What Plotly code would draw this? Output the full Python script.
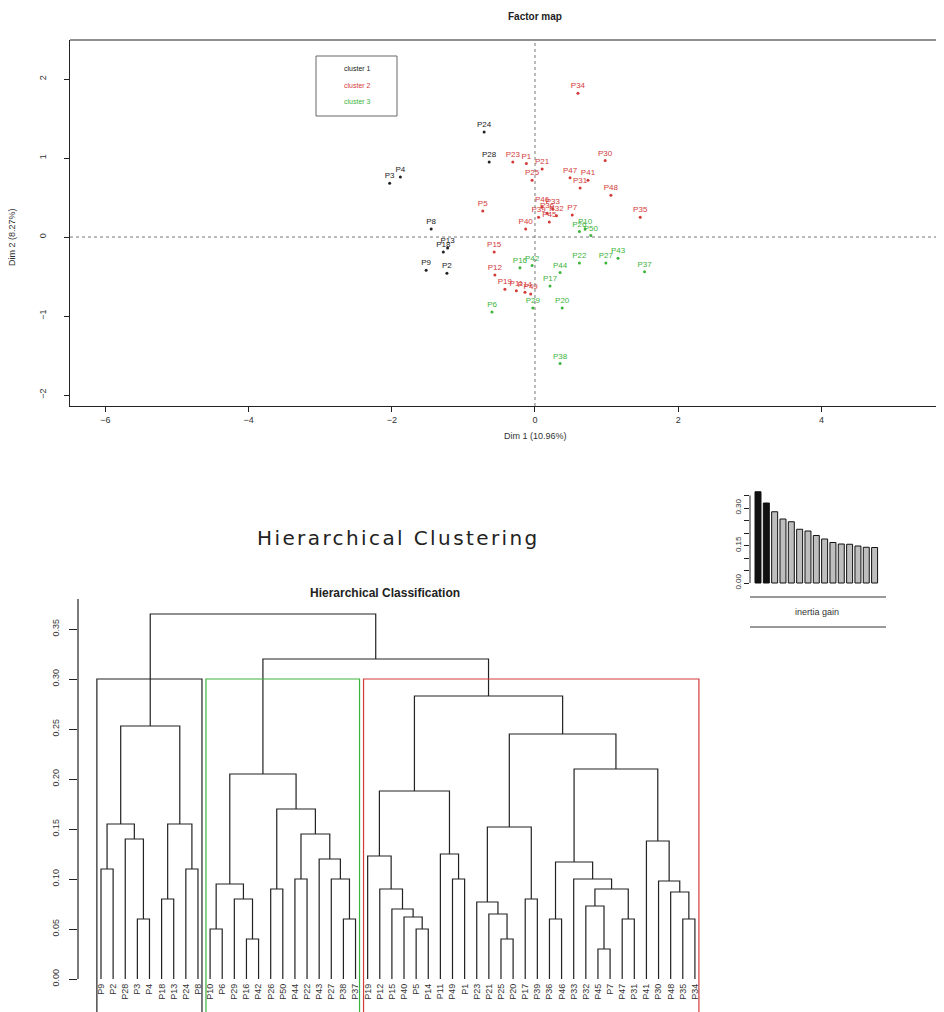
import plotly.graph_objects as go

W, H = 944, 1012
OFF = 8  # page body margin of the html file


def px(xp):
    return (xp - OFF) / W


def py(yp):
    return 1 - (yp - OFF) / H


RED = "#d43a3a"
GREEN = "#3cb43c"
BLACK = "#222222"

# ---------------- Factor map data ----------------
c1_names = ["P24", "P28", "P3", "P4", "P8", "P18", "P13", "P9", "P2"]
c1_x = [-0.71, -0.64, -2.03, -1.88, -1.45, -1.28, -1.22, -1.52, -1.23]
c1_y = [1.33, 0.95, 0.68, 0.76, 0.10, -0.19, -0.14, -0.42, -0.46]

c2_names = ["P34", "P30", "P23", "P1", "P21", "P25", "P47", "P41", "P31", "P48",
            "P35", "P5", "P7", "P36", "P39", "P33", "P46", "P32", "P45", "P40",
            "P15", "P12", "P19", "P11", "P14", "P49"]
c2_x = [0.60, 0.98, -0.31, -0.12, 0.10, -0.04, 0.49, 0.74, 0.63, 1.06,
        1.47, -0.73, 0.52, 0.17, 0.05, 0.25, 0.10, 0.30, 0.20, -0.13,
        -0.57, -0.56, -0.42, -0.26, -0.14, -0.06]
c2_y = [1.82, 0.97, 0.95, 0.93, 0.86, 0.72, 0.75, 0.72, 0.62, 0.53,
        0.25, 0.33, 0.28, 0.30, 0.25, 0.35, 0.38, 0.27, 0.19, 0.10,
        -0.19, -0.48, -0.66, -0.68, -0.70, -0.72]

c3_names = ["P26", "P50", "P10", "P22", "P44", "P17", "P43", "P27", "P37", "P42",
            "P16", "P29", "P6", "P20", "P38"]
c3_x = [0.62, 0.78, 0.70, 0.62, 0.35, 0.21, 1.16, 0.99, 1.53, -0.04,
        -0.21, -0.03, -0.60, 0.38, 0.35]
c3_y = [0.07, 0.02, 0.10, -0.33, -0.45, -0.62, -0.27, -0.33, -0.44, -0.36,
        -0.39, -0.90, -0.95, -0.90, -1.60]

map_xticks = [-6, -4, -2, 0, 2, 4, 6]
map_yticks = [-2, -1, 0, 1, 2]
legend_labels = ["cluster 1", "cluster 2", "cluster 3"]

# ---------------- Dendrogram data ----------------
leaf_labels = ["P9", "P2", "P28", "P3", "P4", "P18", "P13", "P24", "P8",
               "P10", "P6", "P29", "P16", "P42", "P26", "P50", "P44", "P22", "P43", "P27", "P38", "P37",
               "P19", "P12", "P15", "P40", "P5", "P14", "P11", "P49", "P1", "P23", "P21", "P25", "P20",
               "P17", "P39", "P36", "P46", "P33", "P32", "P45", "P7", "P47", "P31", "P41", "P30", "P48",
               "P35", "P34"]
# merges: negative = leaf position, positive = earlier merge row (1-based)
merge_a = [-1, -4, -3, 1, -6, -8, 5, 4,
           -10, -13, -12, 9, -15, -17, -21, -20, -19, 14, 13, 12,
           -27, -26, -25, -24, -23, -30, -29, 25,
           -34, -33, -32, -36, 31, -38, -42, -41, -44, 36, -40, 34,
           -49, -48, -47, -46, 40, 33, 28, 20, 8]
merge_b = [-2, -5, 2, 3, -7, -9, 6, 7,
           -11, -14, 10, 11, -16, -18, -22, 15, 16, 17, 18, 19,
           -28, 21, 22, 23, 24, -31, 26, 27,
           -35, 29, 30, -37, 32, -39, -43, 35, -45, 37, 38, 39,
           -50, 41, 42, 43, 44, 45, 46, 47, 48]
merge_h = [0.11, 0.06, 0.14, 0.155, 0.08, 0.11, 0.155, 0.253,
           0.05, 0.04, 0.08, 0.095, 0.09, 0.10, 0.06, 0.10, 0.12, 0.145, 0.17, 0.205,
           0.05, 0.062, 0.07, 0.09, 0.123, 0.10, 0.125, 0.188,
           0.04, 0.065, 0.077, 0.08, 0.152, 0.06, 0.03, 0.073, 0.06, 0.09, 0.10, 0.117,
           0.06, 0.087, 0.098, 0.138, 0.21, 0.245, 0.283, 0.32, 0.365]
cluster_sizes = [9, 13, 28]
cluster_colors = [BLACK, GREEN, RED]
cut_height = 0.30
dendro_ticks = [0.00, 0.05, 0.10, 0.15, 0.20, 0.25, 0.30, 0.35]

# ---------------- Inertia gain data ----------------
inertia_gain = [0.365, 0.32, 0.285, 0.256, 0.245, 0.215, 0.208, 0.19, 0.176,
                0.162, 0.156, 0.155, 0.148, 0.143, 0.142]
n_cut = 2
gain_ticks = [0.00, 0.05, 0.10, 0.15, 0.20, 0.25, 0.30, 0.35]
gain_ticktext = ["0.00", "", "", "0.15", "", "", "0.30", ""]

FONT = "Liberation Sans, Arial, sans-serif"

fig = go.Figure()

# ---- factor map points ----
for names, xs, ys, col in [(c1_names, c1_x, c1_y, BLACK),
                           (c2_names, c2_x, c2_y, RED),
                           (c3_names, c3_x, c3_y, GREEN)]:
    fig.add_trace(go.Scatter(
        x=xs, y=ys, mode="markers+text", text=names, textposition="top center",
        marker=dict(size=3, color=col), textfont=dict(size=8, color=col, family=FONT),
        xaxis="x", yaxis="y", showlegend=False, hoverinfo="text", cliponaxis=False))

# ---- dendrogram ----
nodes = {}


def coord(ref):
    if ref < 0:
        return float(-ref), 0.0
    return nodes[ref]


seg_x, seg_y = [], []
for i, (a, b, h) in enumerate(zip(merge_a, merge_b, merge_h), start=1):
    xa, ha = coord(a)
    xb, hb = coord(b)
    seg_x += [xa, xa, xb, xb, None]
    seg_y += [ha, h, h, hb, None]
    nodes[i] = ((xa + xb) / 2, h)

fig.add_trace(go.Scatter(x=seg_x, y=seg_y, mode="lines",
                         line=dict(color=BLACK, width=1.2),
                         xaxis="x3", yaxis="y3", showlegend=False, hoverinfo="skip"))

start = 0
for size, col in zip(cluster_sizes, cluster_colors):
    x0 = start + 0.66
    x1 = start + size + 0.33
    fig.add_trace(go.Scatter(x=[x0, x0, x1, x1], y=[-0.2, cut_height, cut_height, -0.2],
                             mode="lines", line=dict(color=col, width=1.2),
                             xaxis="x3", yaxis="y3", showlegend=False, hoverinfo="skip"))
    start += size

# ---- inertia gain bars ----
bar_colors = ["#111111" if i < n_cut else "#bebebe" for i in range(len(inertia_gain))]
fig.add_trace(go.Bar(x=list(range(1, len(inertia_gain) + 1)), y=inertia_gain,
                     width=0.72, marker=dict(color=bar_colors, line=dict(color="#111111", width=1)),
                     xaxis="x4", yaxis="y4", showlegend=False, hoverinfo="y"))

axis_font = dict(family=FONT, size=9, color="#333333")

fig.update_layout(
    width=W, height=H, autosize=False,
    margin=dict(l=0, r=0, t=0, b=0),
    paper_bgcolor="white", plot_bgcolor="white",
    font=dict(family=FONT, color="#222222"),
    showlegend=False,
    xaxis=dict(domain=[px(70), 1.0], range=[-6.494, 5.824], anchor="y",
               showline=True, linecolor="#222", linewidth=1, mirror=False,
               ticks="outside", ticklen=5, tickcolor="#222", tickvals=map_xticks,
               tickfont=axis_font, showgrid=False, zeroline=False),
    yaxis=dict(domain=[py(406), py(40)], range=[-2.139, 2.494], anchor="x",
               showline=True, linecolor="#222", linewidth=1,
               ticks="outside", ticklen=5, tickcolor="#222", tickvals=map_yticks,
               tickangle=-90, ticklabelstandoff=14,
               tickfont=axis_font, showgrid=False, zeroline=False),
    xaxis3=dict(domain=[px(78), px(720)], range=[-0.8977, 52.07], anchor="free",
                position=py(981), showline=False, ticks="",
                tickvals=list(range(1, len(leaf_labels) + 1)), ticktext=leaf_labels,
                tickangle=-90, tickfont=dict(family=FONT, size=9, color="#333"),
                showgrid=False, zeroline=False),
    yaxis3=dict(domain=[0, py(590)], range=[-0.041, 0.389], anchor="x3",
                showline=False, ticks="outside", ticklen=8, tickcolor="#222",
                tickvals=dendro_ticks, ticktext=["%.2f" % v for v in dendro_ticks],
                tickangle=-90, ticklabelstandoff=6,
                tickfont=dict(family=FONT, size=9, color="#333"),
                showgrid=False, zeroline=False),
    xaxis4=dict(domain=[px(750), px(892)], range=[0.04, 17.09], anchor="y4",
                visible=False, showgrid=False, zeroline=False),
    yaxis4=dict(domain=[py(600), py(480)], range=[-0.068, 0.412], anchor="x4",
                showline=False, ticks="outside", ticklen=5, tickcolor="#222",
                tickvals=gain_ticks, ticktext=gain_ticktext, tickangle=-90,
                tickfont=dict(family=FONT, size=8, color="#333"),
                showgrid=False, zeroline=False),
)

shapes = [
    # factor map top frame
    dict(type="line", xref="x domain", yref="y domain", x0=0, x1=1, y0=1, y1=1,
         line=dict(color="#222", width=1)),
    # dashed origin lines
    dict(type="line", xref="x", yref="y domain", x0=0, x1=0, y0=0, y1=1,
         line=dict(color="#777", width=1, dash="3px,3px")),
    dict(type="line", xref="x domain", yref="y", x0=0, x1=1, y0=0, y1=0,
         line=dict(color="#777", width=1, dash="3px,3px")),
    # legend box
    dict(type="rect", xref="paper", yref="paper", x0=px(316), x1=px(397), y0=py(116), y1=py(56),
         line=dict(color="#666", width=1), fillcolor="rgba(0,0,0,0)"),
    # dendrogram y axis line
    dict(type="line", xref="x3 domain", yref="y3", x0=0, x1=0, y0=0, y1=0.38,
         line=dict(color="#222", width=1.2)),
    # inertia gain y axis line
    dict(type="line", xref="x4 domain", yref="y4", x0=0, x1=0, y0=0, y1=0.35,
         line=dict(color="#222", width=1)),
    # inertia gain rules
    dict(type="line", xref="paper", yref="paper", x0=px(750), x1=px(886), y0=py(597), y1=py(597),
         line=dict(color="#333", width=1)),
    dict(type="line", xref="paper", yref="paper", x0=px(750), x1=px(886), y0=py(627), y1=py(627),
         line=dict(color="#333", width=1)),
]
fig.update_layout(shapes=shapes)

ann = [
    dict(text="<b>Factor map</b>", x=px(535), y=py(17), font=dict(size=10, color="#222")),
    dict(text="Dim 1 (10.96%)", x=px(535), y=py(436), font=dict(size=9, color="#333")),
    dict(text="Dim 2 (8.27%)", x=px(12), y=py(237), textangle=-90, font=dict(size=9, color="#333")),
    dict(text='<span style="letter-spacing:2.4px">Hierarchical Clustering</span>',
         x=px(398), y=py(538),
         font=dict(size=20, family="DejaVu Sans, sans-serif", color="#222")),
    dict(text="<b>Hierarchical Classification</b>", x=px(385), y=py(593), font=dict(size=12, color="#222")),
    dict(text="inertia gain", x=px(817), y=py(612), font=dict(size=9, color="#333")),
]
for lbl, col, yy in zip(legend_labels, [BLACK, RED, GREEN], [69, 85, 101]):
    ann.append(dict(text=lbl, x=px(357), y=py(yy), font=dict(size=7, color=col)))

for a in ann:
    a.update(xref="paper", yref="paper", showarrow=False, xanchor="center", yanchor="middle")
    a["font"].setdefault("family", FONT)
fig.update_layout(annotations=ann)

fig.write_html("out.html")
